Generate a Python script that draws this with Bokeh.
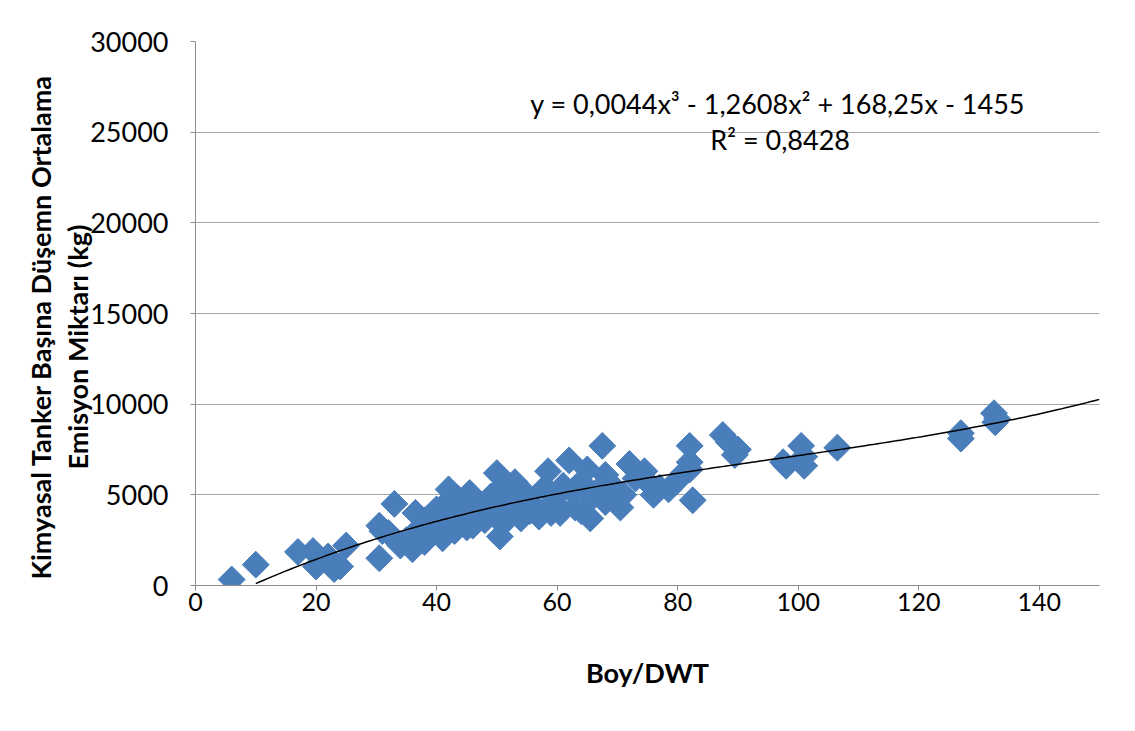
import numpy as np
from bokeh.plotting import figure
from bokeh.models import Range1d, FixedTicker, Label, Title
from bokeh.embed import file_html
from bokeh.resources import INLINE

# ---- data ----
boy_dwt = [6, 10, 17, 19.5, 20, 22, 23, 24, 25,
           30.5, 31, 30.5, 32, 33, 34, 35, 36, 36.5, 37, 38, 38, 39,
           40, 40, 41, 41.5, 42, 42, 43, 43.5, 44, 45, 45.5, 46, 46, 47, 48, 48, 49,
           50, 50, 50.5, 51, 51, 52, 52, 53, 53.5, 54, 55, 55.5, 56, 57, 58, 58.5, 59,
           59.5, 60, 60.5, 61, 62, 62.5, 63, 64, 64, 65, 65.5, 66, 67, 67.5, 68, 68,
           69.5, 70.5, 71, 72, 73, 74.5, 75, 76, 77, 78.5, 80, 81, 82, 82, 82, 82.5,
           87.5, 88.5, 89.5, 90, 97.5, 98, 100.5, 101, 101, 106.5, 127, 127, 132.5, 132.7, 133]
emisyon = [330, 1150, 1850, 1900, 1050, 1600, 900, 1050, 2200,
           3300, 3000, 1500, 2900, 4500, 2200, 2500, 2000, 4000, 3100, 2400, 3600, 2900,
           3300, 4200, 2600, 4500, 5300, 3500, 3000, 4800, 3900, 3200, 5100, 4300, 3300, 3700, 4400, 3600, 4900,
           6200, 4100, 2700, 5500, 3400, 4700, 3900, 5700, 4300, 3700, 5000, 4100, 4500, 3800, 5400, 6300, 4000,
           4600, 5000, 4000, 5500, 6900, 5200, 4300, 5700, 4100, 6400, 3700, 4900, 5300, 7700, 6100, 4600,
           5400, 4300, 5000, 6700, 5900, 6300, 5700, 5000, 5400, 5300, 5800, 6200, 7700, 6800, 6400, 4700,
           8300, 7900, 7200, 7500, 6800, 6600, 7700, 6600, 7100, 7600, 8400, 8100, 9500, 9000, 9200]

# polynomial trendline coefficients as printed on the chart (x^3, x^2, x, 1)
trend_coef = [0.0044, -1.2608, 168.25, -1455]
trend_x_start, trend_x_end = 10, 150

x_ticks = [0, 20, 40, 60, 80, 100, 120, 140]
y_ticks = [0, 5000, 10000, 15000, 20000, 25000, 30000]

eq_text = "y = 0,0044x³ - 1,2608x² + 168,25x - 1455"
r2_text = "R² = 0,8428"
x_title = "Boy/DWT"
y_title_1 = "Kimyasal Tanker Başına Düşemn Ortalama"
y_title_2 = "Emisyon Miktarı (kg)"

FONT = "Lato"

p = figure(width=1129, height=715, output_backend="svg", toolbar_location=None,
           x_range=Range1d(0, 150), y_range=Range1d(0, 30000),
           min_border_left=195, min_border_right=30, min_border_top=41, min_border_bottom=130)
p.outline_line_color = None
p.background_fill_color = "white"
p.border_fill_color = "white"

p.xgrid.visible = False
p.ygrid.grid_line_color = "#a6a6a6"
p.ygrid.grid_line_width = 1

p.xaxis.ticker = FixedTicker(ticks=x_ticks)
p.yaxis.ticker = FixedTicker(ticks=y_ticks)
for ax in (p.xaxis[0], p.yaxis[0]):
    ax.axis_line_color = "#8c8c8c"
    ax.major_tick_line_color = "#8c8c8c"
    ax.major_tick_out = 5
    ax.major_tick_in = 0
    ax.minor_tick_line_color = None
    ax.major_label_text_font = FONT
    ax.major_label_text_color = "#000000"
p.yaxis.major_label_text_font_size = "27px"
p.yaxis.major_label_standoff = 22
p.xaxis.major_label_text_font_size = "25px"
p.xaxis.major_label_standoff = 2
p.xaxis.axis_label = x_title
p.xaxis.axis_label_text_font = FONT
p.xaxis.axis_label_text_font_style = "bold"
p.xaxis.axis_label_text_font_size = "27px"
p.xaxis.axis_label_text_color = "#000000"
p.xaxis.axis_label_standoff = 42

# scatter
p.scatter(boy_dwt, emisyon, marker="square", angle=np.pi / 4, size=19,
          fill_color="#4a7ebb", line_color="#4a7ebb")

# trendline
tx = np.linspace(trend_x_start, trend_x_end, 200)
ty = np.polyval(trend_coef, tx)
p.line(tx, ty, line_color="#000000", line_width=1.5)

# equation text
p.add_layout(Label(x=96.6, y=26600, text=eq_text, text_align="center", text_baseline="middle",
                   text_font=FONT, text_font_size="27px", text_color="#000000"))
p.add_layout(Label(x=97, y=24600, text=r2_text, text_align="center", text_baseline="middle",
                   text_font=FONT, text_font_size="27px", text_color="#000000"))

# y-axis title (two lines)
p.add_layout(Title(text=y_title_2, align="left", text_font=FONT, text_font_style="bold",
                   text_font_size="27px", text_color="#000000", standoff=-12, offset=116), "left")
p.add_layout(Title(text=y_title_1, align="left", text_font=FONT, text_font_style="bold",
                   text_font_size="27px", text_color="#000000", standoff=16, offset=6), "left")

open("out.html", "w").write(file_html(p, INLINE))
